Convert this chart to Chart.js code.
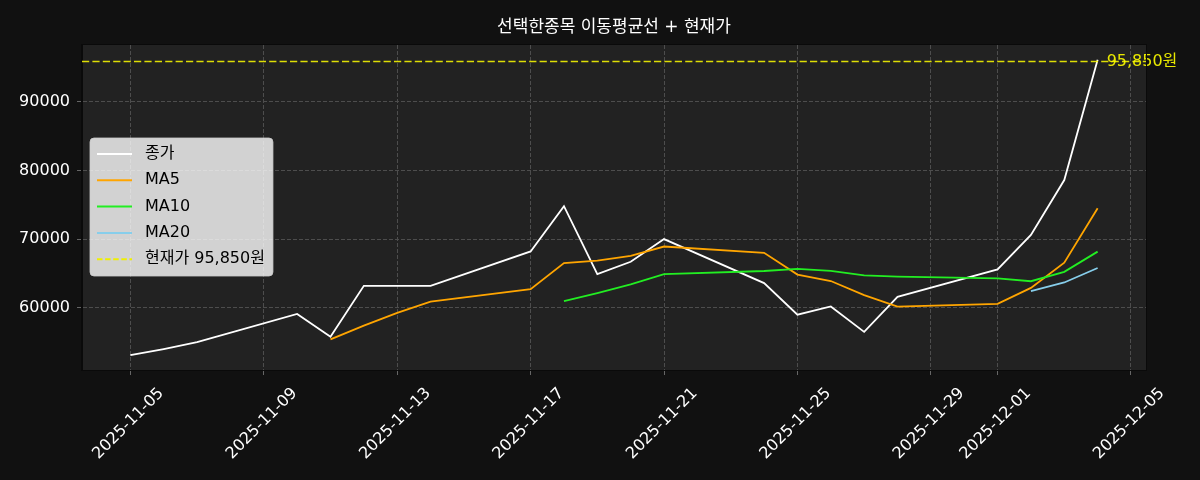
<!DOCTYPE html>
<html>
<head>
<meta charset="utf-8">
<script src="https://cdn.jsdelivr.net/npm/chart.js@4.4.1/dist/chart.umd.min.js"></script>
<style>
  html, body { margin: 0; padding: 0; background: #111111; }
  #wrap { width: 1200px; height: 480px; }
</style>
</head>
<body>
<div id="wrap"><canvas id="c" width="1200" height="480"></canvas></div>
<script>
// ---------------- data ----------------
const titleText = '선택한종목 이동평균선 + 현재가';
const dates = ['2025-11-05','2025-11-06','2025-11-07','2025-11-10','2025-11-11','2025-11-12','2025-11-13','2025-11-14',
               '2025-11-17','2025-11-18','2025-11-19','2025-11-20','2025-11-21','2025-11-24','2025-11-25','2025-11-26',
               '2025-11-27','2025-11-28','2025-12-01','2025-12-02','2025-12-03','2025-12-04'];
const closes = [53100,54000,55000,59100,55800,63200,63200,63200,68200,74800,64900,66700,70000,63600,59000,60200,56500,61600,65600,70600,78600,96100];
const ma5  = [null,null,null,null,55400,57420,59260,60900,62720,66520,66860,67560,68920,68000,64840,63900,61860,60180,60580,62900,66580,74500];
const ma10 = [null,null,null,null,null,null,null,null,null,60960,62140,63410,64910,65360,65680,65380,64710,64550,64290,63870,65240,68180];
const ma20 = [null,null,null,null,null,null,null,null,null,null,null,null,null,null,null,null,null,null,null,62415,63690,65795];
const currentPrice = 95850;
const currentPriceText = '95,850원';
const seriesNames = ['종가','MA5','MA10','MA20','현재가 95,850원'];
const xTickLabels = ['2025-11-05','2025-11-09','2025-11-13','2025-11-17','2025-11-21','2025-11-25','2025-11-29','2025-12-01','2025-12-05'];
const yTickValues = [60000,70000,80000,90000];

// ---------------- helpers ----------------
const FONT = "'DejaVu Sans', 'Noto Sans CJK KR', sans-serif";
const DAY = 86400000;
const BASE = Date.UTC(2025, 10, 5);
function dayOf(s) { const p = s.split('-').map(Number); return (Date.UTC(p[0], p[1]-1, p[2]) - BASE) / DAY; }
const xs = dates.map(dayOf);
function pts(arr) { return arr.map((v, i) => ({ x: xs[i], y: v })); }

const xSpan = xs[xs.length-1] - xs[0];
const xMin = xs[0] - 0.05 * xSpan, xMax = xs[xs.length-1] + 0.05 * xSpan;
const allY = closes.concat(ma5, ma10, ma20, [currentPrice]).filter(v => v !== null);
const yLo = Math.min(...allY), yHi = Math.max(...allY), ySpan = yHi - yLo;
const yMin = yLo - 0.05 * ySpan, yMax = yHi + 0.05 * ySpan;

const colors = ['#ffffff', '#ffa500', '#22ee22', '#87ceeb', '#f0f000'];
const LW = 1.8;
const HDASH = [7.2, 3.2];

const bgPlugin = {
  id: 'bg',
  beforeDraw(chart) {
    const { ctx, chartArea: a } = chart;
    ctx.save();
    ctx.fillStyle = '#111111';
    ctx.fillRect(0, 0, chart.width, chart.height);
    ctx.fillStyle = '#222222';
    ctx.fillRect(a.left, a.top, a.right - a.left, a.bottom - a.top);
    // title
    ctx.fillStyle = '#ffffff';
    ctx.font = '17px ' + FONT;
    ctx.textAlign = 'center';
    ctx.textBaseline = 'middle';
    ctx.fillText(titleText, (a.left + a.right) / 2, 28);
    ctx.restore();
  },
  afterDatasetsDraw(chart) {
    const { ctx, chartArea: a, scales } = chart;
    const y = scales.y.getPixelForValue(currentPrice);
    ctx.save();
    ctx.fillStyle = '#e8e800';
    ctx.font = '16px ' + FONT;
    ctx.textAlign = 'left';
    ctx.textBaseline = 'middle';
    ctx.fillText(currentPriceText, scales.x.getPixelForValue(xs[xs.length-1]) + 9, y);
    ctx.restore();

    ctx.save();
    ctx.beginPath();
    ctx.rect(a.left, a.top, a.right - a.left, a.bottom - a.top);
    ctx.clip();
    ctx.strokeStyle = 'rgba(255,255,0,0.85)';
    ctx.lineWidth = 1.6;
    ctx.setLineDash(HDASH);
    ctx.beginPath();
    ctx.moveTo(a.left, y);
    ctx.lineTo(a.right, y);
    ctx.stroke();
    ctx.restore();
  },
  afterDraw(chart) {
    const { ctx, chartArea: a } = chart;
    // spines
    ctx.save();
    ctx.strokeStyle = '#0a0a0a';
    ctx.lineWidth = 1;
    ctx.strokeRect(a.left - 0.5, a.top - 0.5, a.right - a.left + 1, a.bottom - a.top + 1);
    ctx.restore();

    // legend
    ctx.save();
    ctx.font = '16px ' + FONT;
    const bx = a.left + 8, by = a.top + 93;
    const textX = bx + 55;
    let maxW = 0;
    seriesNames.forEach(n => { maxW = Math.max(maxW, ctx.measureText(n).width); });
    const bw = (textX - bx) + maxW + 8, bh = 138;
    const r = 4;
    ctx.beginPath();
    ctx.moveTo(bx + r, by);
    ctx.arcTo(bx + bw, by, bx + bw, by + bh, r);
    ctx.arcTo(bx + bw, by + bh, bx, by + bh, r);
    ctx.arcTo(bx, by + bh, bx, by, r);
    ctx.arcTo(bx, by, bx + bw, by, r);
    ctx.closePath();
    ctx.fillStyle = 'rgba(255,255,255,0.8)';
    ctx.fill();
    ctx.strokeStyle = 'rgba(204,204,204,0.8)';
    ctx.lineWidth = 1;
    ctx.stroke();
    seriesNames.forEach((n, i) => {
      const ry = by + 16 + i * 26.3;
      ctx.beginPath();
      ctx.strokeStyle = colors[i];
      ctx.lineWidth = 2;
      ctx.setLineDash(i === 4 ? [5.5, 2.6] : []);
      ctx.moveTo(bx + 7, ry);
      ctx.lineTo(bx + 42, ry);
      ctx.stroke();
      ctx.setLineDash([]);
      ctx.fillStyle = '#000000';
      ctx.textAlign = 'left';
      ctx.textBaseline = 'middle';
      ctx.fillText(n, textX, ry);
    });
    ctx.restore();
  }
};

const lineDs = (label, arr, color, order) => ({
  label, data: pts(arr), borderColor: color, backgroundColor: color,
  borderWidth: LW, pointRadius: 0, tension: 0, spanGaps: false, fill: false, order
});

new Chart(document.getElementById('c'), {
  type: 'line',
  data: {
    datasets: [
      lineDs(seriesNames[0], closes, colors[0], 4),
      lineDs(seriesNames[1], ma5, colors[1], 3),
      lineDs(seriesNames[2], ma10, colors[2], 2),
      lineDs(seriesNames[3], ma20, colors[3], 1)
    ]
  },
  options: {
    responsive: false,
    animation: false,
    devicePixelRatio: 1,
    layout: { padding: { left: 0, right: 54, top: 45, bottom: 0 } },
    plugins: { legend: { display: false }, title: { display: false }, tooltip: { enabled: false } },
    scales: {
      x: {
        type: 'linear', min: xMin, max: xMax,
        afterBuildTicks(axis) { axis.ticks = xTickLabels.map(l => ({ value: dayOf(l) })); },
        afterFit(axis) { axis.height = 110; },
        ticks: {
          autoSkip: false, minRotation: 45, maxRotation: 45,
          color: '#ffffff', font: { family: FONT, size: 16 }, padding: 9, labelOffset: 31,
          callback: (v, i) => xTickLabels[i]
        },
        grid: { color: '#4d4d4d', lineWidth: 1, drawTicks: true, tickLength: 5, tickColor: '#666666', tickWidth: 1, tickBorderDash: [] },
        border: { display: true, color: '#0a0a0a', dash: [4, 2] }
      },
      y: {
        type: 'linear', min: yMin, max: yMax,
        afterBuildTicks(axis) { axis.ticks = yTickValues.map(v => ({ value: v })); },
        afterFit(axis) { axis.width = 82; },
        ticks: {
          color: '#ffffff', font: { family: FONT, size: 16 }, padding: 7,
          callback: (v) => String(v)
        },
        grid: { color: '#4d4d4d', lineWidth: 1, drawTicks: true, tickLength: 5, tickColor: '#666666', tickWidth: 1, tickBorderDash: [] },
        border: { display: true, color: '#0a0a0a', dash: [4, 2] }
      }
    }
  },
  plugins: [bgPlugin]
});
</script>
</body>
</html>
